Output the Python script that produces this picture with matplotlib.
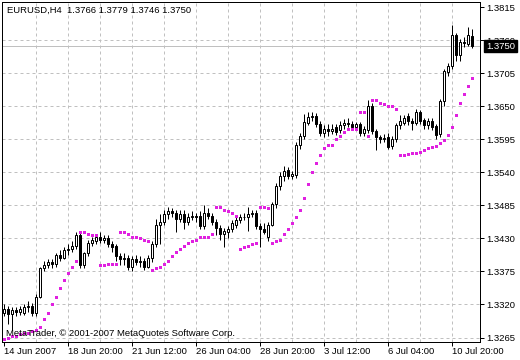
import numpy as np
import matplotlib
matplotlib.use('Agg')
from matplotlib import pyplot as plt
from matplotlib.transforms import blended_transform_factory, offset_copy

# EURUSD H4 bars (oldest first)
symbol = 'EURUSD,H4'
opens = [1.3305, 1.3312, 1.3304, 1.3310, 1.3307, 1.3306, 1.3315, 1.3318, 1.3305, 1.3333,
         1.3380, 1.3386, 1.3390, 1.3387, 1.3402, 1.3398, 1.3410, 1.3412, 1.3418, 1.3435,
         1.3385, 1.3405, 1.3422, 1.3426, 1.3432, 1.3428, 1.3430, 1.3420, 1.3417, 1.3400,
         1.3395, 1.3398, 1.3382, 1.3396, 1.3390, 1.3393, 1.3383, 1.3398, 1.3420, 1.3453,
         1.3458, 1.3470, 1.3475, 1.3472, 1.3462, 1.3470, 1.3458, 1.3465, 1.3468, 1.3468,
         1.3450, 1.3472, 1.3468, 1.3458, 1.3448, 1.3437, 1.3440, 1.3445, 1.3453, 1.3460,
         1.3465, 1.3466, 1.3470, 1.3472, 1.3450, 1.3445, 1.3432, 1.3453, 1.3487, 1.3517,
         1.3533, 1.3543, 1.3533, 1.3535, 1.3585, 1.3600, 1.3622, 1.3632, 1.3633, 1.3620,
         1.3605, 1.3612, 1.3608, 1.3615, 1.3610, 1.3618, 1.3622, 1.3620, 1.3616, 1.3620,
         1.3605, 1.3610, 1.3650, 1.3608, 1.3598, 1.3595, 1.3598, 1.3583, 1.3595, 1.3618,
         1.3622, 1.3633, 1.3625, 1.3622, 1.3640, 1.3627, 1.3618, 1.3625, 1.3617, 1.3603,
         1.3658, 1.3707, 1.3717, 1.3768, 1.3735, 1.3757, 1.3753, 1.3766]
highs = [1.3320, 1.3318, 1.3316, 1.3315, 1.3318, 1.3320, 1.3325, 1.3322, 1.3337, 1.3383,
         1.3392, 1.3395, 1.3395, 1.3405, 1.3410, 1.3415, 1.3420, 1.3425, 1.3440, 1.3442,
         1.3408, 1.3428, 1.3432, 1.3434, 1.3440, 1.3436, 1.3435, 1.3425, 1.3420, 1.3405,
         1.3405, 1.3402, 1.3400, 1.3402, 1.3400, 1.3398, 1.3402, 1.3425, 1.3462, 1.3470,
         1.3478, 1.3482, 1.3480, 1.3477, 1.3477, 1.3478, 1.3472, 1.3475, 1.3473, 1.3475,
         1.3485, 1.3480, 1.3472, 1.3462, 1.3452, 1.3447, 1.3450, 1.3460, 1.3465, 1.3470,
         1.3472, 1.3482, 1.3478, 1.3478, 1.3455, 1.3455, 1.3458, 1.3490, 1.3522, 1.3540,
         1.3550, 1.3548, 1.3542, 1.3590, 1.3605, 1.3637, 1.3640, 1.3640, 1.3638, 1.3625,
         1.3618, 1.3620, 1.3620, 1.3620, 1.3625, 1.3628, 1.3630, 1.3625, 1.3624, 1.3624,
         1.3617, 1.3660, 1.3655, 1.3612, 1.3602, 1.3603, 1.3605, 1.3600, 1.3622, 1.3635,
         1.3635, 1.3638, 1.3630, 1.3645, 1.3643, 1.3630, 1.3630, 1.3630, 1.3620, 1.3662,
         1.3712, 1.3722, 1.3785, 1.3772, 1.3762, 1.3765, 1.3782, 1.3779]
lows = [1.3300, 1.3287, 1.3278, 1.3300, 1.3302, 1.3302, 1.3308, 1.3300, 1.3300, 1.3330,
        1.3375, 1.3380, 1.3380, 1.3383, 1.3393, 1.3395, 1.3402, 1.3408, 1.3412, 1.3380,
        1.3380, 1.3400, 1.3418, 1.3420, 1.3422, 1.3422, 1.3415, 1.3408, 1.3392, 1.3385,
        1.3385, 1.3378, 1.3375, 1.3385, 1.3383, 1.3378, 1.3380, 1.3390, 1.3415, 1.3420,
        1.3452, 1.3462, 1.3465, 1.3440, 1.3458, 1.3445, 1.3452, 1.3460, 1.3458, 1.3445,
        1.3445, 1.3462, 1.3452, 1.3435, 1.3428, 1.3415, 1.3430, 1.3440, 1.3448, 1.3455,
        1.3460, 1.3442, 1.3465, 1.3445, 1.3415, 1.3438, 1.3425, 1.3450, 1.3480, 1.3510,
        1.3525, 1.3528, 1.3528, 1.3530, 1.3578, 1.3595, 1.3618, 1.3625, 1.3615, 1.3600,
        1.3598, 1.3600, 1.3603, 1.3602, 1.3605, 1.3612, 1.3615, 1.3614, 1.3614, 1.3600,
        1.3600, 1.3605, 1.3603, 1.3577, 1.3588, 1.3590, 1.3578, 1.3578, 1.3590, 1.3612,
        1.3618, 1.3618, 1.3610, 1.3618, 1.3620, 1.3612, 1.3612, 1.3610, 1.3595, 1.3598,
        1.3650, 1.3700, 1.3712, 1.3725, 1.3725, 1.3748, 1.3750, 1.3746]
closes = [1.3312, 1.3304, 1.3310, 1.3307, 1.3312, 1.3315, 1.3318, 1.3305, 1.3333, 1.3380,
          1.3386, 1.3390, 1.3387, 1.3402, 1.3398, 1.3410, 1.3412, 1.3418, 1.3435, 1.3385,
          1.3405, 1.3422, 1.3428, 1.3432, 1.3428, 1.3430, 1.3420, 1.3415, 1.3400, 1.3395,
          1.3398, 1.3382, 1.3396, 1.3390, 1.3393, 1.3383, 1.3398, 1.3420, 1.3453, 1.3458,
          1.3470, 1.3475, 1.3472, 1.3462, 1.3470, 1.3458, 1.3465, 1.3468, 1.3465, 1.3450,
          1.3472, 1.3468, 1.3458, 1.3448, 1.3437, 1.3442, 1.3445, 1.3455, 1.3460, 1.3465,
          1.3466, 1.3470, 1.3472, 1.3450, 1.3445, 1.3440, 1.3453, 1.3487, 1.3517, 1.3533,
          1.3542, 1.3533, 1.3537, 1.3585, 1.3600, 1.3623, 1.3632, 1.3634, 1.3620, 1.3605,
          1.3612, 1.3608, 1.3612, 1.3607, 1.3618, 1.3622, 1.3620, 1.3616, 1.3620, 1.3605,
          1.3612, 1.3650, 1.3608, 1.3598, 1.3595, 1.3597, 1.3582, 1.3595, 1.3618, 1.3625,
          1.3630, 1.3625, 1.3622, 1.3640, 1.3625, 1.3618, 1.3625, 1.3615, 1.3602, 1.3658,
          1.3708, 1.3717, 1.3768, 1.3735, 1.3757, 1.3755, 1.3768, 1.3750]
# Parabolic SAR values
sar = [1.3263, 1.3265, 1.3267, 1.3268, 1.3270, 1.3272, 1.3273, 1.3275, 1.3278, 1.3283,
       1.3295, 1.3305, 1.3320, 1.3332, 1.3347, 1.3360, 1.3372, 1.3382, 1.3393, 1.3440,
       1.3440, 1.3437, 1.3435, 1.3435, 1.3385, 1.3385, 1.3387, 1.3388, 1.3388, 1.3440,
       1.3440, 1.3437, 1.3433, 1.3432, 1.3430, 1.3427, 1.3425, 1.3378, 1.3380, 1.3383,
       1.3387, 1.3393, 1.3400, 1.3407, 1.3413, 1.3418, 1.3423, 1.3425, 1.3428, 1.3432,
       1.3433, 1.3433, 1.3438, 1.3482, 1.3482, 1.3478, 1.3475, 1.3472, 1.3468, 1.3413,
       1.3415, 1.3417, 1.3420, 1.3423, 1.3482, 1.3482, 1.3480, 1.3423, 1.3425, 1.3428,
       1.3437, 1.3445, 1.3455, 1.3465, 1.3477, 1.3497, 1.3520, 1.3540, 1.3555, 1.3568,
       1.3580, 1.3585, 1.3585, 1.3595, 1.3600, 1.3607, 1.3612, 1.3612, 1.3612, 1.3640,
       1.3640, 1.3600, 1.3661, 1.3661, 1.3656, 1.3653, 1.3651, 1.3650, 1.3645, 1.3569,
       1.3569, 1.3570, 1.3572, 1.3572, 1.3574, 1.3577, 1.3580, 1.3582, 1.3584, 1.3589,
       1.3594, 1.3602, 1.3615, 1.3635, 1.3655, 1.3670, 1.3683, 1.3697]
time_labels = ['14 Jun 2007', '18 Jun 20:00', '21 Jun 12:00', '26 Jun 04:00',
               '28 Jun 20:00', '3 Jul 12:00', '6 Jul 04:00', '10 Jul 20:00']
price_levels = [1.3265, 1.3320, 1.3375, 1.3430, 1.3485, 1.3540,
                1.3595, 1.3650, 1.3705, 1.3760, 1.3815]

o = np.array(opens)
h = np.array(highs)
l = np.array(lows)
c = np.array(closes)
idx = np.arange(len(c))

plt.rcParams['font.family'] = ['Liberation Sans', 'DejaVu Sans']
fs = 6.8
px = 0.72  # one pixel in points

fig = plt.figure(figsize=(5.2, 3.6), dpi=100)
fig.patch.set_facecolor('white')
ax = fig.add_axes([2/520, 18/360, 478/520, 340/360])

# price scale: 0.0055 per 33 px
ppx = 0.0055 / 33.05
ax.set_ylim(1.3815 - 335 * ppx, 1.3815 + 5 * ppx)
ax.set_xlim(-0.5, 119)

# grid
for i in range(8, 113, 8):
    ax.axvline(i, color='#c0c0c0', lw=px, ls=(0, (3, 3)), zorder=0)
for p in price_levels[:-1]:
    ax.axhline(p, color='#c0c0c0', lw=px, ls=(0, (3, 3)), zorder=0)
# bid line
ax.axhline(c[-1], color='#c0c0c0', lw=px, zorder=1)

# candles
ax.vlines(idx, l, h, color='black', lw=px, zorder=2)
up = c >= o
body = np.maximum(np.abs(c - o), 0.00004)
ax.bar(idx, body, bottom=np.minimum(o, c), width=0.55,
       color=np.where(up, 'white', 'black'), edgecolor='black',
       linewidth=px, zorder=3)

# parabolic SAR
ax.plot(idx, sar, ls='none', marker='s', ms=2.16, mew=0, color='#e020e0',
        antialiased=False, zorder=4)

for s in ax.spines.values():
    s.set_color('black')
    s.set_linewidth(px)

ax.yaxis.tick_right()
ax.set_yticks(price_levels)
ax.set_yticklabels([f'{p:.4f}' for p in price_levels])
ax.set_xticks(list(range(0, 113, 16)))
ax.set_xticklabels(time_labels)
for lbl in ax.get_xticklabels():
    lbl.set_horizontalalignment('left')
ax.tick_params(axis='both', direction='out', length=2.9, width=px,
               labelsize=fs, colors='black')
ax.tick_params(axis='y', pad=1.5)
ax.tick_params(axis='x', pad=1)

# current price box
tr = blended_transform_factory(ax.transAxes, ax.transData)
ax.text(1.0, c[-1], f'{c[-1]:.4f}',
        transform=offset_copy(tr, fig=fig, x=6, y=0, units='dots'),
        color='white', va='center', ha='left', fontsize=fs, zorder=10,
        bbox=dict(boxstyle='square,pad=0.2', fc='black', ec='black'), clip_on=False)

fig.text(7/520, 1 - 10/360,
         f'{symbol}  {opens[-1]:.4f} {highs[-1]:.4f} {lows[-1]:.4f} {closes[-1]:.4f}',
         fontsize=fs, va='center', ha='left', color='black')
fig.text(6/520, 1 - 334/360, 'MetaTrader, \u00a9 2001-2007 MetaQuotes Software Corp.',
         fontsize=fs, va='center', ha='left', color='black')

fig.savefig('out.png', dpi=100, facecolor='white')
